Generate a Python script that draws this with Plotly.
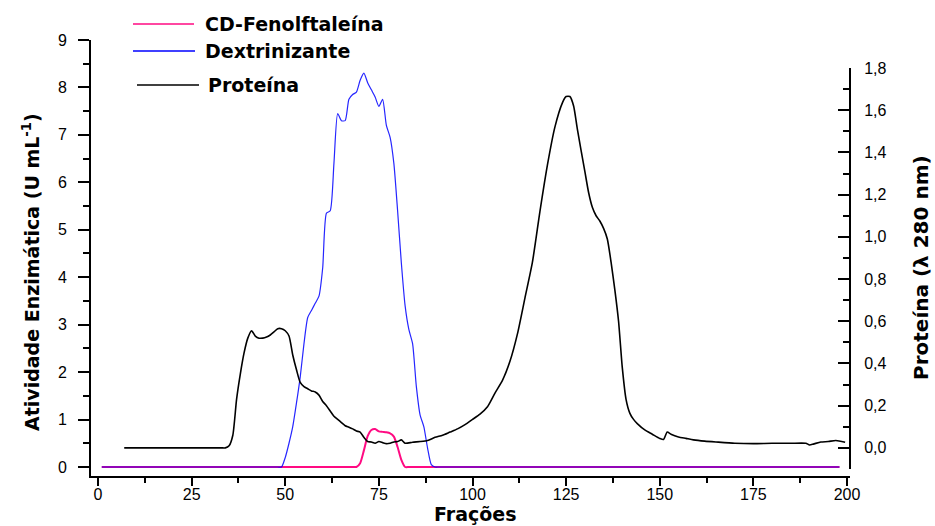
import plotly.graph_objects as go

# ---------------- data ----------------
frac_dex = [1, 46, 47, 48, 49, 50, 51, 52, 53, 54, 55, 56, 57, 58, 59, 60, 61, 62, 63, 64, 65,
            66, 67, 68, 69, 70, 71, 72, 73, 74, 75, 76, 77, 78, 79, 80, 81, 82, 83, 84, 85, 86,
            87, 88, 89, 90, 91, 92, 198]
dextrinizante = [0, 0, 0, 0, 0, 0.2, 0.5, 0.85, 1.35, 1.9, 2.6, 3.15, 3.3, 3.45, 3.6, 4.2, 5.35,
                 5.4, 6.4, 7.45, 7.3, 7.3, 7.75, 7.85, 7.9, 8.15, 8.3, 8.1, 7.95, 7.8, 7.6, 7.75,
                 7.2, 6.95, 6.4, 5.4, 4.3, 3.4, 2.9, 2.6, 1.7, 1.1, 0.85, 0.4, 0.05, 0, 0, 0, 0]

frac_cd = [1, 66, 67, 68, 69, 70, 71, 72, 73, 74, 75, 76, 77, 78, 79, 80, 81, 82, 83, 84, 85,
           198]
cd_fenolftaleina = [0, 0, 0, 0, 0, 0.08, 0.35, 0.65, 0.78, 0.8, 0.75, 0.74, 0.73, 0.71, 0.64,
                    0.42, 0.15, 0, 0, 0, 0, 0]

frac_prot = [7, 31, 32, 33, 34, 35, 36, 37, 38, 39, 40, 41, 42, 43, 44, 45, 46, 47, 48, 49, 50,
             51, 52, 53, 54, 55, 56, 57, 58, 59, 60, 61, 62, 63, 64, 65, 66, 67, 68, 69, 70, 71,
             72, 73, 74, 75, 76, 77, 78, 79, 80, 81, 82, 84, 86, 88, 90, 92, 94, 96, 98, 100,
             102, 104, 106, 108, 110, 112, 114, 116, 118, 120, 122, 124, 125, 126, 127, 128, 130,
             131, 132, 133, 134, 135, 136, 137, 138, 139, 140, 141, 142, 143, 144, 146, 148, 150,
             151, 152, 153, 155, 157, 159, 162, 165, 170, 175, 180, 185, 189, 190, 191, 193, 195,
             197, 199.5]
proteina = [0.0, 0.0, 0.0, 0.0, 0.0, 0.01, 0.06, 0.23, 0.35, 0.45, 0.52, 0.555, 0.53, 0.52, 0.52,
            0.525, 0.535, 0.55, 0.565, 0.565, 0.555, 0.53, 0.44, 0.37, 0.31, 0.29, 0.28, 0.27,
            0.265, 0.25, 0.22, 0.2, 0.175, 0.15, 0.135, 0.12, 0.105, 0.098, 0.09, 0.08, 0.075,
            0.05, 0.03, 0.028, 0.022, 0.03, 0.025, 0.02, 0.022, 0.028, 0.03, 0.038, 0.022, 0.027,
            0.03, 0.035, 0.05, 0.06, 0.075, 0.09, 0.11, 0.135, 0.16, 0.195, 0.26, 0.32, 0.41,
            0.54, 0.71, 0.88, 1.12, 1.34, 1.52, 1.635, 1.665, 1.665, 1.62, 1.51, 1.31, 1.21, 1.14,
            1.1, 1.075, 1.04, 0.99, 0.88, 0.75, 0.6, 0.38, 0.23, 0.165, 0.135, 0.115, 0.085,
            0.065, 0.045, 0.04, 0.075, 0.065, 0.052, 0.045, 0.038, 0.032, 0.028, 0.022, 0.02,
            0.022, 0.022, 0.022, 0.014, 0.018, 0.028, 0.03, 0.035, 0.027]

x_ticks = [0, 25, 50, 75, 100, 125, 150, 175, 200]
y_ticks = [0, 1, 2, 3, 4, 5, 6, 7, 8, 9]
y2_ticks = [0.0, 0.2, 0.4, 0.6, 0.8, 1.0, 1.2, 1.4, 1.6, 1.8]

series_names = ["CD-Fenolftaleína", "Dextrinizante", "Proteína"]
series_colors = ["#FF0A82", "#0000FF", "#000000"]

# ---------------- layout geometry (pixels) ----------------
W, H = 935, 526
L, R, T, B = 91, 850, 40, 476
PW, PH = R - L, B - T


def px_x(px):
    return (px - L) / PW


def px_y(py):
    return (B - py) / PH


TITLE_FONT = "DejaVu Sans"
TICK_FONT = "Liberation Sans, Arial, sans-serif"

fig = go.Figure()

fig.add_trace(go.Scatter(x=frac_cd, y=cd_fenolftaleina, mode="lines",
                         line=dict(color=series_colors[0], width=2, shape="spline",
                                   smoothing=0.6),
                         name=series_names[0], showlegend=False))
fig.add_trace(go.Scatter(x=frac_dex, y=dextrinizante, mode="lines",
                         line=dict(color=series_colors[1], width=1.2, shape="spline",
                                   smoothing=0.6), opacity=0.85,
                         name=series_names[1], showlegend=False))
fig.add_trace(go.Scatter(x=frac_prot, y=proteina, mode="lines", yaxis="y2",
                         line=dict(color=series_colors[2], width=1.6, shape="spline",
                                   smoothing=0.6),
                         name=series_names[2], showlegend=False))

axis_common = dict(showgrid=False, zeroline=False, showline=True, linecolor="black",
                   linewidth=2, tickcolor="black", tickwidth=2,
                   tickfont=dict(family=TICK_FONT, size=16, color="black"))

fig.update_layout(
    width=W, height=H,
    margin=dict(l=L, r=W - R, t=T, b=H - B, pad=0),
    paper_bgcolor="white", plot_bgcolor="rgba(0,0,0,0)",
    separators=",.",
    showlegend=False,
    xaxis=dict(range=[-(98 - L) / 3.745, (R - 98) / 3.745],
               tickvals=x_ticks, ticks="outside", ticklen=8, ticklabelstandoff=-5,
               minor=dict(dtick=12.5, tick0=0, ticks="outside", ticklen=5,
                          tickcolor="black", tickwidth=2),
               anchor="y", **axis_common),
    yaxis=dict(range=[-0.19, 9.0], tickvals=y_ticks, ticks="outside", ticklen=11,
               minor=dict(dtick=0.5, tick0=0, ticks="outside", ticklen=6,
                          tickcolor="black", tickwidth=2),
               ticklabelstandoff=8, **axis_common),
    yaxis2=dict(domain=[px_y(469), px_y(68)], range=[-0.1, 1.8], anchor="free",
                position=1, side="right", tickvals=y2_ticks, tickformat=".1f",
                ticks="inside", ticklen=11,
                minor=dict(dtick=0.1, tick0=0, ticks="inside", ticklen=6,
                           tickcolor="black", tickwidth=2),
                ticklabelstandoff=10, **axis_common),
)

annotations = []
# axis titles
annotations.append(dict(text="Frações", xref="paper", yref="paper",
                        x=px_x(475), y=px_y(514), xanchor="center", yanchor="middle",
                        showarrow=False,
                        font=dict(family=TITLE_FONT, size=19, color="black", weight="bold")))
annotations.append(dict(text="Atividade Enzimática (U mL<sup>-1</sup>)", xref="paper",
                        yref="paper", x=px_x(31), y=px_y(272), xanchor="center",
                        yanchor="middle", textangle=-90, showarrow=False,
                        font=dict(family=TITLE_FONT, size=19, color="black", weight="bold")))
annotations.append(dict(text="Proteína (λ 280 nm)", xref="paper", yref="paper",
                        x=px_x(921), y=px_y(268), xanchor="center", yanchor="middle",
                        textangle=-90, showarrow=False,
                        font=dict(family=TITLE_FONT, size=20, color="black", weight="bold")))

# manual legend
legend_rows = [(133, 194, 24, 203), (133, 195, 51, 203), (137, 199, 85, 206)]
shapes = []
for (x0, x1, yy, tx), name, col in zip(legend_rows, series_names, series_colors):
    shapes.append(dict(type="line", xref="paper", yref="paper",
                       x0=px_x(x0), x1=px_x(x1), y0=px_y(yy), y1=px_y(yy),
                       line=dict(color=col, width=1.6)))
    annotations.append(dict(text=name, xref="paper", yref="paper", x=px_x(tx), y=px_y(yy),
                            xanchor="left", yanchor="middle", showarrow=False,
                            font=dict(family=TITLE_FONT, size=19, color="black",
                                      weight="bold")))

fig.update_layout(annotations=annotations, shapes=shapes)

fig.write_html("out.html")
